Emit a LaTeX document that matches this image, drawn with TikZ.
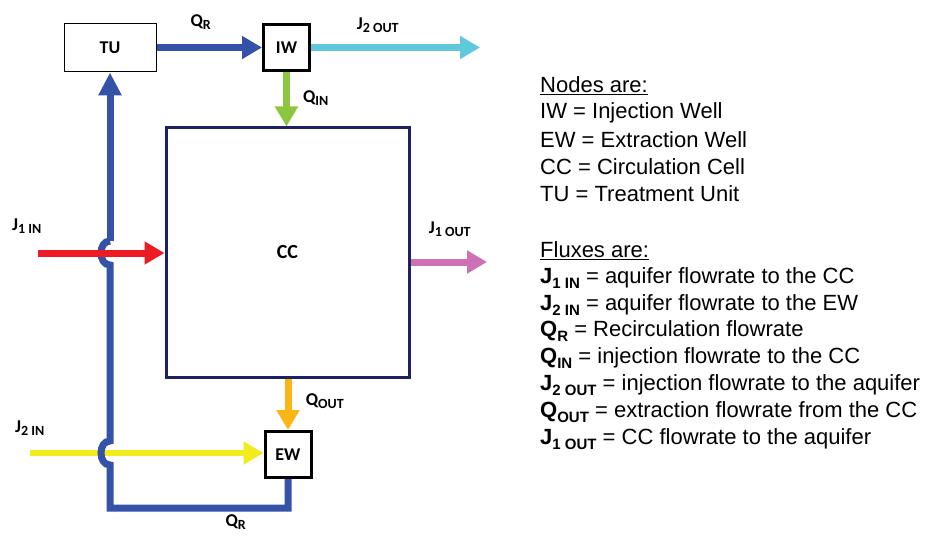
\documentclass[tikz,border=0pt]{standalone}
\usepackage{fontspec}
\setmainfont{Liberation Sans}
\newfontfamily\lblfont{Carlito}
\usetikzlibrary{arrows.meta}
\definecolor{cblue}{RGB}{52,82,168}
\definecolor{ccyan}{RGB}{95,200,220}
\definecolor{cgreen}{RGB}{140,198,63}
\definecolor{cred}{RGB}{237,28,36}
\definecolor{cyellow}{RGB}{242,235,30}
\definecolor{corange}{RGB}{252,182,20}
\definecolor{cpink}{RGB}{205,112,182}
\definecolor{cnavy}{RGB}{30,32,100}
\tikzset{
  flow/.style={line width=7pt,-{Triangle[length=20pt,width=22pt]}},
  well/.style={draw=black,line width=3pt,minimum width=46pt,minimum height=46pt,inner sep=0pt,font=\lblfont\bfseries\fontsize{18}{20}\selectfont},
  lbl/.style={font=\lblfont\bfseries\fontsize{18}{20}\selectfont,inner sep=0pt},
  leg/.style={anchor=west,inner sep=0pt,font=\fontsize{22}{24}\selectfont}
}
\newcommand{\mysub}[1]{\textsubscript{\fontsize{14}{16}\selectfont #1}}
\newcommand{\legsub}[1]{\raisebox{-5pt}{\fontsize{15}{16}\selectfont #1}}
\begin{document}
\begin{tikzpicture}[x=1pt,y=-1pt]
\useasboundingbox (0,0) rectangle (925,540);
% nodes
\node[draw=black,line width=1pt,minimum width=92pt,minimum height=48pt,inner sep=0pt,font=\lblfont\bfseries\fontsize{18}{20}\selectfont] (TU) at (110,48) {TU};
\node[well] (IW) at (286.5,47.5) {IW};
\node[draw=cnavy,line width=3pt,minimum width=243pt,minimum height=249pt,inner sep=0pt,font=\lblfont\bfseries\fontsize{20}{22}\selectfont] (CC) at (287.5,252.5) {CC};
\node[well] (EW) at (288,454.5) {EW};
% free ends
\coordinate (j2o) at (480,47.5);
\coordinate (j1i) at (38,253);
\coordinate (j1o) at (487,262);
\coordinate (j2i) at (30,453);
% arrows
\draw[flow,cblue] (TU.east |- IW) -- (IW.west);
\draw[flow,ccyan] (IW.east) -- (j2o);
\draw[flow,cgreen] (IW.south) -- (IW.south |- CC.north);
\draw[flow,corange] (CC.south -| EW.north) -- (EW.north);
\draw[flow,cpink] (CC.east |- j1o) -- (j1o);
\draw[line width=6pt,cyellow,-{Triangle[length=20pt,width=22pt]}] (j2i) -- (EW.west |- j2i);
% blue recirculation loop with jumps
\coordinate (b1) at (110,508);
\coordinate (jt) at (110,241);
\draw[cblue,line width=7pt,line join=miter]
  (EW.south) -- (EW.south |- b1) -- (b1) -- (110,465)
  .. controls (98,465) and (98,441) .. (110,441) -- (110,265)
  .. controls (98,265) and (98,241) .. (jt);
\draw[flow,cblue,-{Triangle[length=23pt,width=22pt]}] (jt) -- (TU.south);
\draw[flow,cred] (j1i) -- (CC.west |- j1i);
% labels
\node[lbl] (lqr1) at (201,22) {Q\mysub{R}};
\node[lbl] (lj2o) at (378,25) {J\mysub{2 OUT}};
\node[lbl] (lqin) at (316,98) {Q\mysub{IN}};
\node[lbl] (lj1i) at (27,226) {J\mysub{1 IN}};
\node[lbl] (lj1o) at (450,229) {J\mysub{1 OUT}};
\node[lbl] (lqout) at (325,401) {Q\mysub{OUT}};
\node[lbl] (lj2i) at (30,428) {J\mysub{2 IN}};
\node[lbl] (lqr2) at (236,522) {Q\mysub{R}};
% legend
\node[leg] (n0) at (540,86) {\underline{Nodes are:}};
\node[leg] (n1) at (540,113) {IW = Injection Well};
\node[leg] (n2) at (540,140) {EW = Extraction Well};
\node[leg] (n3) at (540,167) {CC = Circulation Cell};
\node[leg] (n4) at (540,194) {TU = Treatment Unit};
\node[leg] (f0) at (540,251) {\underline{Fluxes are:}};
\node[leg] (f1) at (540,278) {\textbf{J\legsub{1 IN}} = aquifer flowrate to the CC};
\node[leg] (f2) at (540,305) {\textbf{J\legsub{2 IN}} = aquifer flowrate to the EW};
\node[leg] (f3) at (540,331) {\textbf{Q\legsub{R}} = Recirculation flowrate};
\node[leg] (f4) at (540,358) {\textbf{Q\legsub{IN}} = injection flowrate to the CC};
\node[leg] (f5) at (540,385) {\textbf{J\legsub{2 OUT}} = injection flowrate to the aquifer};
\node[leg] (f6) at (540,412) {\textbf{Q\legsub{OUT}} = extraction flowrate from the CC};
\node[leg] (f7) at (540,439) {\textbf{J\legsub{1 OUT}} = CC flowrate to the aquifer};
\end{tikzpicture}
\end{document}
